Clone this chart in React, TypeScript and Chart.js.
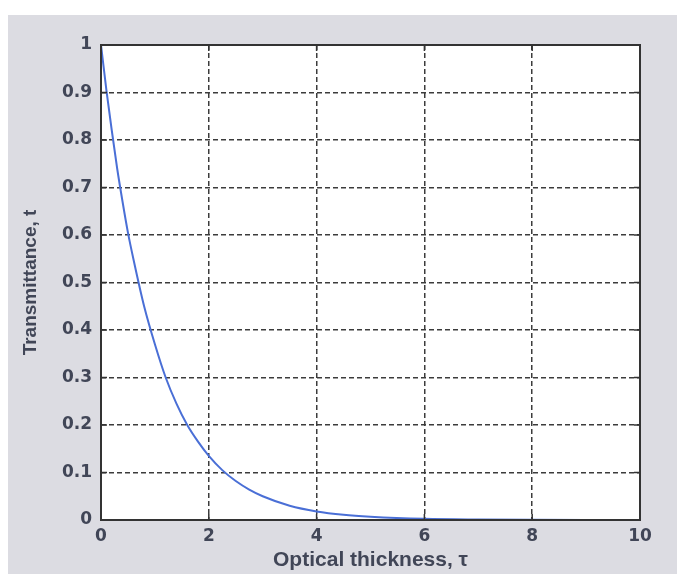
import React, { useEffect, useRef } from "react";
import { Chart, registerables } from "chart.js";

Chart.register(...registerables);

const tau = [0, 0.1, 0.2, 0.3, 0.4, 0.5, 0.6, 0.8, 1, 1.2, 1.4, 1.6, 1.8, 2, 2.25, 2.5, 2.75, 3, 3.5, 4, 4.5, 5, 6, 7, 8, 9, 10];
const transmittance = [1, 0.905, 0.82, 0.74, 0.67, 0.605, 0.55, 0.45, 0.37, 0.3, 0.245, 0.2, 0.165, 0.135, 0.105, 0.082, 0.064, 0.05, 0.03, 0.018, 0.011, 0.007, 0.0025, 0.001, 0.0004, 0.0002, 0.0001];

const xTitle = "Optical thickness, τ";
const yTitle = "Transmittance, t";

const TEXT = "#414657";
const LINE = "#333333";
const GRID = "#3c3c3c";

const frame = {
  id: "frame",
  afterDraw(chart: any) {
    const { ctx, chartArea: a, scales } = chart;
    ctx.save();
    ctx.strokeStyle = LINE;
    ctx.lineWidth = 1.5;
    const tl = 6;
    ctx.beginPath();
    scales.x.ticks.forEach((t: any) => {
      const px = scales.x.getPixelForValue(t.value);
      ctx.moveTo(px, a.bottom);
      ctx.lineTo(px, a.bottom - tl);
      ctx.moveTo(px, a.top);
      ctx.lineTo(px, a.top + tl);
    });
    scales.y.ticks.forEach((t: any) => {
      const py = scales.y.getPixelForValue(t.value);
      ctx.moveTo(a.left, py);
      ctx.lineTo(a.left + tl, py);
      ctx.moveTo(a.right, py);
      ctx.lineTo(a.right - tl, py);
    });
    ctx.stroke();
    ctx.lineWidth = 2;
    ctx.strokeRect(a.left, a.top, a.right - a.left, a.bottom - a.top);
    ctx.restore();
  },
};

const bgPlot = {
  id: "bgPlot",
  beforeDraw(chart: any) {
    const { ctx, chartArea: a } = chart;
    ctx.save();
    ctx.fillStyle = "#ffffff";
    ctx.fillRect(a.left, a.top, a.right - a.left, a.bottom - a.top);
    ctx.restore();
  },
};

export default function App() {
  const ref = useRef<HTMLCanvasElement>(null);
  useEffect(() => {
    if (!ref.current) return;
    const chart = new Chart(ref.current, {
      type: "line",
      data: {
        datasets: [
          {
            data: tau.map((x, i) => ({ x, y: transmittance[i] })),
            borderColor: "#4a6fd6",
            borderWidth: 2,
            pointRadius: 0,
            cubicInterpolationMode: "monotone",
            fill: false,
          },
        ],
      },
      options: {
        animation: false,
        responsive: false,
        devicePixelRatio: 1,
        layout: { padding: { top: 45, right: 37, left: 0, bottom: 0 } },
        plugins: { legend: { display: false }, tooltip: { enabled: false } },
        scales: {
          x: {
            type: "linear",
            min: 0,
            max: 10,
            ticks: {
              stepSize: 2,
              padding: 6,
              color: TEXT,
              font: { family: "DejaVu Sans", weight: "bold", size: 17 },
            },
            grid: { color: GRID, lineWidth: 1.5, drawTicks: false },
            border: { display: false, dash: [5, 3] },
            title: {
              display: true,
              text: xTitle,
              color: TEXT,
              font: { family: "Liberation Sans", weight: "bold", size: 21 },
              padding: { top: 0, bottom: 1 },
            },
            afterFit: (s: any) => {
              s.height = 54;
            },
          },
          y: {
            type: "linear",
            min: 0,
            max: 1,
            ticks: {
              stepSize: 0.1,
              padding: 9,
              color: TEXT,
              font: { family: "DejaVu Sans", weight: "bold", size: 17 },
              callback: (v: any) => String(Number(Number(v).toFixed(1))),
            },
            grid: { color: GRID, lineWidth: 1.5, drawTicks: false },
            border: { display: false, dash: [5, 3] },
            title: {
              display: true,
              text: yTitle,
              color: TEXT,
              font: { family: "Liberation Sans", weight: "bold", size: 19 },
              padding: { top: 19, bottom: 0 },
            },
            afterFit: (s: any) => {
              s.width = 101;
            },
          },
        },
      },
      plugins: [bgPlot, frame],
    });
    return () => chart.destroy();
  }, []);

  return (
    <div style={{ position: "fixed", left: 0, top: 0, width: 677, height: 574, background: "#ffffff" }}>
      <div style={{ position: "absolute", left: 8, top: 15, right: 0, bottom: 0, background: "#dcdce2" }} />
      <canvas ref={ref} width={677} height={574} style={{ position: "absolute", left: 0, top: 0, width: 677, height: 574 }} />
    </div>
  );
}
